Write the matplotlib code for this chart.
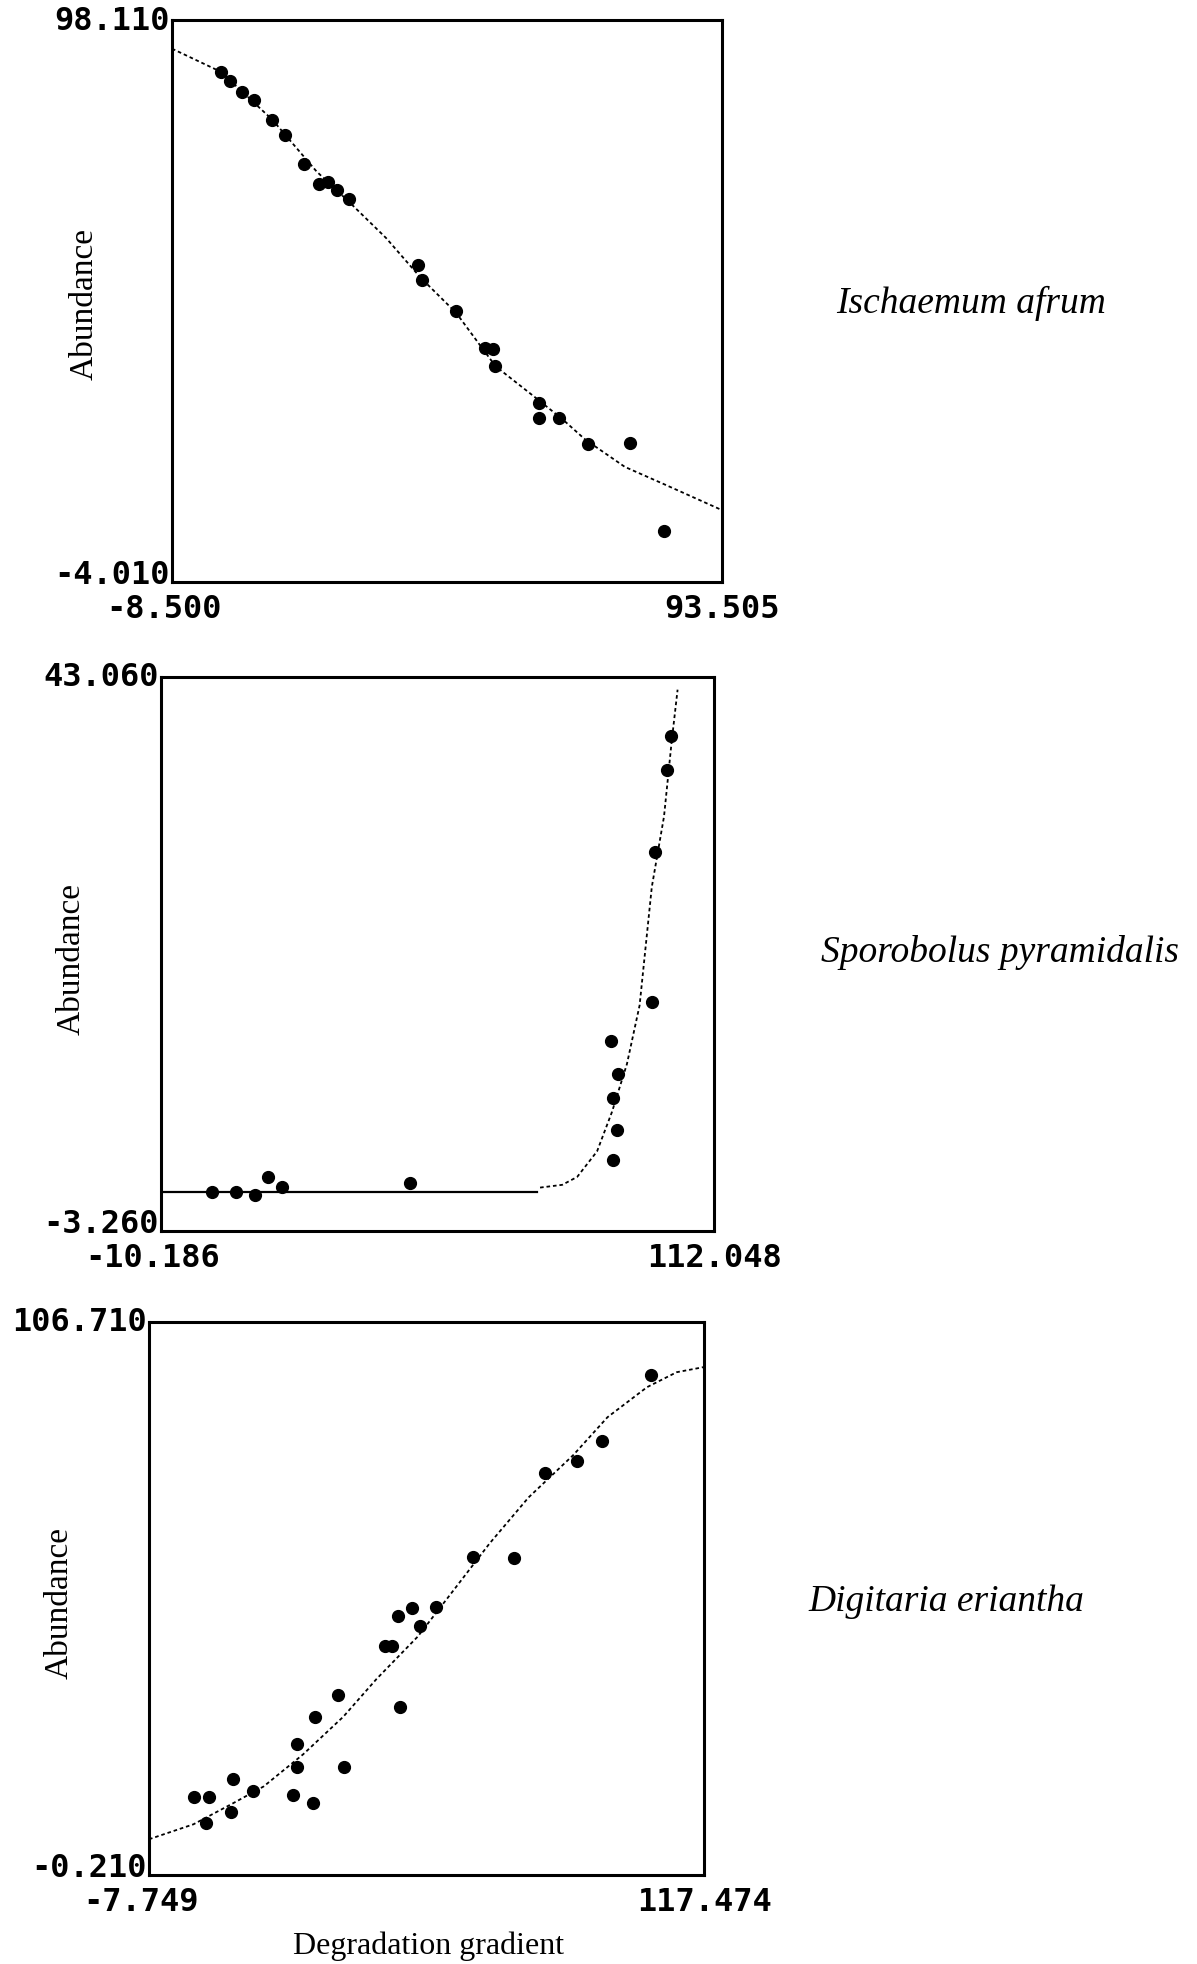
import matplotlib
matplotlib.use("Agg")
import matplotlib.pyplot as plt

W, H = 1197, 1965

# --- Ischaemum afrum ---
isc_x = [0.55, 2.2, 4.5, 6.8, 10.1, 12.4, 16.05, 18.8, 20.5, 22.1, 24.4, 37.2, 37.8,
         44.2, 49.6, 51.0, 51.4, 59.5, 59.5, 63.3, 68.7, 76.5, 82.7]
isc_y = [88.6, 87.0, 85.0, 83.6, 80.0, 77.2, 71.9, 68.3, 68.6, 67.2, 65.5, 53.6, 50.9,
         45.2, 38.6, 38.3, 35.2, 28.6, 25.7, 25.7, 21.1, 21.2, 5.2]
isc_cx = [-8.5, 0.55, 10.1, 18.3, 24.4, 31.2, 37.6, 44.2, 51.5, 58.9, 64.0, 68.1, 75.5, 82.9, 93.5]
isc_cy = [92.9, 88.7, 80.0, 70.6, 65.0, 58.5, 51.3, 44.9, 35.2, 29.5, 25.5, 21.9, 16.9, 13.7, 9.05]

# --- Sporobolus pyramidalis ---
spo_x = [1.0, 6.4, 10.6, 13.4, 16.6, 44.8, 89.3, 90.8, 89.7, 90.5, 89.8, 98.4, 99.0, 101.6, 102.6]
spo_y = [0.0, 0.0, -0.25, 1.25, 0.45, 0.75, 12.65, 9.9, 7.9, 5.2, 2.65, 15.9, 28.4, 35.3, 38.1]
spo_flat_x = [-10.186, 73.0]
spo_flat_y = [0.0, 0.0]
spo_cx = [73.6, 78.5, 81.8, 86.2, 89.5, 92.8, 95.6, 98.3, 101.0, 102.7, 104.0]
spo_cy = [0.37, 0.6, 1.26, 3.4, 6.7, 10.7, 15.6, 25.5, 31.4, 37.7, 42.0]

# --- Digitaria eriantha ---
dig_x = [2.3, 5.8, 5.1, 11.2, 10.8, 15.8, 24.7, 25.7, 25.6, 29.3, 29.7, 34.8, 36.2,
         45.5, 47.1, 48.5, 48.9, 51.7, 53.3, 56.9, 65.4, 74.5, 81.6, 88.8, 94.4, 105.6]
dig_y = [14.9, 14.9, 9.8, 18.3, 12.0, 16.1, 15.3, 25.2, 20.6, 13.8, 30.4, 34.5, 20.6,
         44.1, 44.1, 49.8, 32.3, 51.4, 48.0, 51.6, 61.2, 61.0, 77.6, 79.8, 83.7, 96.5]
dig_cx = [-7.749, 2.3, 11.3, 18.1, 27.0, 36.1, 43.6, 52.9, 60.3, 69.1, 77.9, 88.0, 95.7, 104.6, 111.3, 117.474]
dig_cy = [6.7, 9.6, 13.7, 16.9, 23.1, 30.4, 37.7, 45.9, 54.1, 63.9, 72.8, 81.0, 88.3, 94.1, 97.0, 98.0]

xlims = [(-8.500, 93.505), (-10.186, 112.048), (-7.749, 117.474)]
ylims = [(-4.010, 98.110), (-3.260, 43.060), (-0.210, 106.710)]
xlabels = [("-8.500", "93.505"), ("-10.186", "112.048"), ("-7.749", "117.474")]
ylabels = [("-4.010", "98.110"), ("-3.260", "43.060"), ("-0.210", "106.710")]
species = ["Ischaemum afrum", "Sporobolus pyramidalis", "Digitaria eriantha"]

# axes boxes in pixels: left, right, top, bottom
boxes = [(172, 722, 21, 583), (161, 714, 678, 1232), (149, 704, 1323, 1876)]
abund_pos = [(84, 304), (71, 959), (59, 1603)]
species_pos = [(836, 303), (821, 953), (808, 1602)]

serif = ["Liberation Serif", "DejaVu Serif"]
mono = ["DejaVu Sans Mono"]

fig = plt.figure(figsize=(W / 100, H / 100), dpi=100)
fig.patch.set_facecolor("white")

axes = []
for l, r, t, b in boxes:
    ax = fig.add_axes([l / W, 1 - b / H, (r - l) / W, (b - t) / H])
    axes.append(ax)

lsty = (0, (2.0, 1.6))

ax = axes[0]
ax.plot(isc_cx, isc_cy, color="black", lw=1.3, linestyle=lsty)
ax.plot(isc_x, isc_y, "o", color="black", ms=8.5)

ax = axes[1]
ax.plot(spo_flat_x, spo_flat_y, color="black", lw=1.6)
ax.plot(spo_cx, spo_cy, color="black", lw=1.3, linestyle=lsty)
ax.plot(spo_x, spo_y, "o", color="black", ms=8.5)

ax = axes[2]
ax.plot(dig_cx, dig_cy, color="black", lw=1.3, linestyle=lsty)
ax.plot(dig_x, dig_y, "o", color="black", ms=8.5)

tick_font = dict(family=mono, fontweight="bold", fontsize=23)
for i, ax in enumerate(axes):
    ax.set_xlim(*xlims[i])
    ax.set_ylim(*ylims[i])
    ax.set_xticks([])
    ax.set_yticks([])
    for s in ax.spines.values():
        s.set_linewidth(2.2)
        s.set_color("black")
    ax.text(-0.004, 1.0, ylabels[i][1], transform=ax.transAxes, ha="right", va="center", **tick_font)
    ax.text(-0.004, 0.014, ylabels[i][0], transform=ax.transAxes, ha="right", va="center", **tick_font)
    ax.text(-0.015, -0.02, xlabels[i][0], transform=ax.transAxes, ha="center", va="top", **tick_font)
    ax.text(1.0, -0.02, xlabels[i][1], transform=ax.transAxes, ha="center", va="top", **tick_font)

    ax_x, ax_y = abund_pos[i]
    fig.text(ax_x / W, 1 - ax_y / H, "Abundance", rotation=90, ha="center", va="center",
             family=serif, fontsize=24)
    sx, sy = species_pos[i]
    fig.text(sx / W, 1 - sy / H, species[i], ha="left", va="center",
             family=serif, style="italic", fontsize=27)

fig.text(429 / W, 1 - 1946 / H, "Degradation gradient", ha="center", va="center",
         family=serif, fontsize=23)

fig.savefig("out.png", dpi=100, facecolor="white")
